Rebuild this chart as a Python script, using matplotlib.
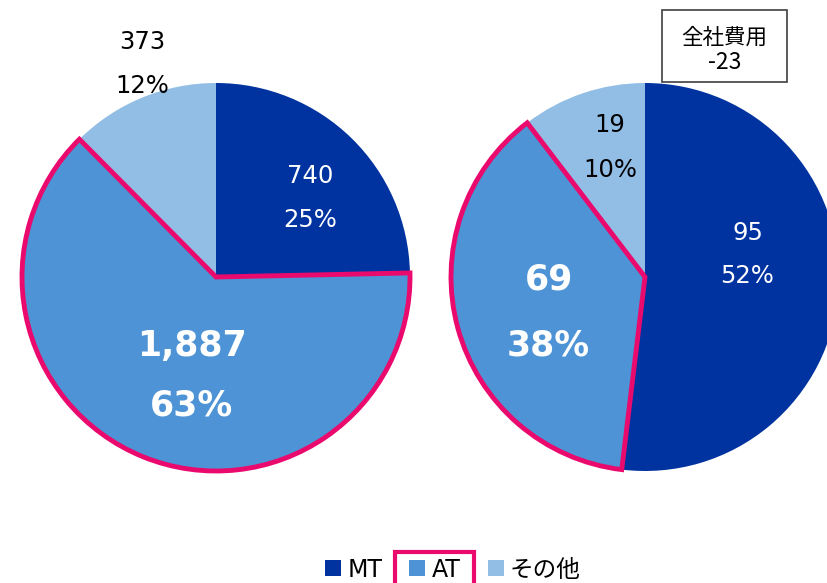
import matplotlib
matplotlib.use("Agg")
import matplotlib.pyplot as plt
from matplotlib.patches import Rectangle

categories = ["MT", "AT", "その他"]
left_values = [740, 1887, 373]
left_pcts = [25, 63, 12]
right_values = [95, 69, 19]
right_pcts = [52, 38, 10]
box_title = "全社費用"
box_value = -23

colors = ["#0033A0", "#4D93D5", "#92BEE6"]
pink = "#EA0A6E"
H = 583

fig = plt.figure(figsize=(8.27, 5.83), dpi=100)
ax = fig.add_axes([0, 0, 1, 1])

def draw_pie(values, center, radius):
    wedges, _ = ax.pie(values, colors=colors, startangle=90, counterclock=False,
                       center=center, radius=radius, frame=True,
                       wedgeprops=dict(linewidth=0))
    w = wedges[1]
    w.set_edgecolor(pink)
    w.set_linewidth(3.5)
    w.set_joinstyle("miter")
    w.set_zorder(5)
    return wedges

draw_pie(left_values, (216, H - 277), 194)
draw_pie(right_values, (645, H - 277), 194)

ax.set_xlim(0, 827)
ax.set_ylim(0, H)
ax.set_aspect("equal")
ax.axis("off")

def lab(x, ybase, s, color, size, bold=False):
    ax.text(x, H - ybase, s, color=color, fontsize=size, ha="center", va="baseline",
            fontweight="bold" if bold else "normal", family="DejaVu Sans", zorder=10)

# left pie labels
lab(310, 183, f"{left_values[0]:,}", "white", 17.5)
lab(310, 227, f"{left_pcts[0]}%", "white", 17.5)
lab(192, 356, f"{left_values[1]:,}", "white", 25, True)
lab(191, 416, f"{left_pcts[1]}%", "white", 25, True)
lab(142, 49, f"{left_values[2]:,}", "black", 17.5)
lab(142, 93, f"{left_pcts[2]}%", "black", 17.5)

# right pie labels
lab(748, 240, f"{right_values[0]:,}", "white", 17.5)
lab(747, 283, f"{right_pcts[0]}%", "white", 17.5)
lab(549, 290, f"{right_values[1]:,}", "white", 25, True)
lab(548, 355, f"{right_pcts[1]}%", "white", 25, True)
lab(610, 132, f"{right_values[2]:,}", "black", 17.5)
lab(610, 177, f"{right_pcts[2]}%", "black", 17.5)

# box
ax.add_patch(Rectangle((662, H - 82), 125, 72, facecolor="white", edgecolor="#404040",
                       linewidth=1.2, zorder=12))
ax.text(724.5, H - 44, box_title, fontsize=15.5, ha="center", va="baseline",
        family=["Noto Sans CJK JP", "DejaVu Sans"], zorder=13)
ax.text(724.5, H - 69, f"{box_value}", fontsize=16.5, ha="center", va="baseline",
        family=["Noto Sans CJK JP", "DejaVu Sans"], zorder=13)

# legend
sq_x = [325, 409, 488]
tx_x = [348, 432, 510]
for c, sx, tx, name in zip(colors, sq_x, tx_x, categories):
    ax.add_patch(Rectangle((sx, H - 576), 16, 16, facecolor=c, edgecolor="none", zorder=12))
    ax.text(tx, H - 577, name, fontsize=17, ha="left", va="baseline",
            family=["DejaVu Sans", "Noto Sans CJK JP"], zorder=13)
ax.add_patch(Rectangle((395, H - 590), 79, 38, facecolor="none", edgecolor=pink,
                       linewidth=3, zorder=12, clip_on=True))

fig.savefig("out.png", dpi=100)
